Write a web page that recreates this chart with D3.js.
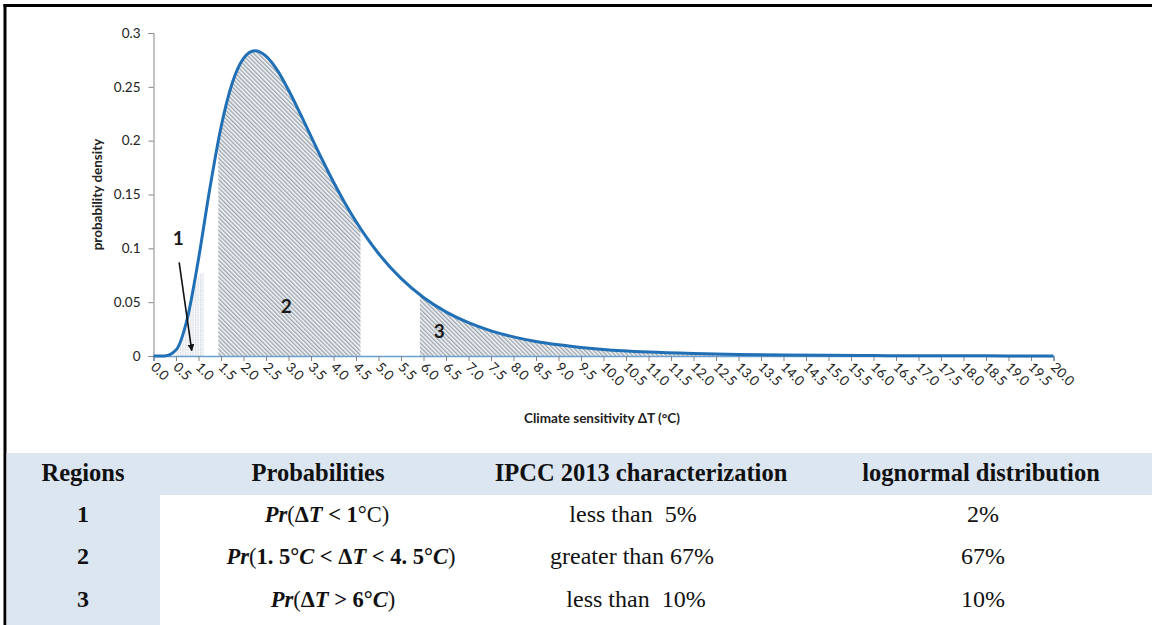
<!DOCTYPE html>
<html>
<head>
<meta charset="utf-8">
<script src="https://cdn.jsdelivr.net/npm/d3@7"></script>
<style>
  html, body { margin: 0; padding: 0; background: #fff; }
  svg { display: block; }
  text { white-space: pre; }
</style>
</head>
<body>
<svg id="chart" width="1152" height="625"></svg>
<script>
// Climate sensitivity ΔT (°C) and its probability density (lognormal fit)
const sensitivity = [0, 0.25, 0.5, 0.75, 1.0, 1.25, 1.5, 1.75, 2.0, 2.25, 2.5, 2.75, 3.0, 3.25, 3.5, 3.75,
  4.0, 4.25, 4.5, 4.75, 5.0, 5.5, 6.0, 6.5, 7.0, 7.5, 8.0, 8.5, 9.0, 9.5, 10, 11, 12, 13, 14, 15, 16, 17, 18, 19, 20];
const density = [0, 0.0001, 0.0055, 0.0346, 0.0901, 0.1550, 0.2125, 0.2535, 0.2765, 0.2835, 0.2785, 0.2655,
  0.2470, 0.2260, 0.2040, 0.1823, 0.1616, 0.1424, 0.1249, 0.1092, 0.0952, 0.0721, 0.0544, 0.0410, 0.0310,
  0.0234, 0.0178, 0.0135, 0.0104, 0.0080, 0.0061, 0.0037, 0.0023, 0.0014, 0.0009, 0.0006, 0.0004, 0.0002,
  0.0002, 0.0001, 0.0001];

// Hatched regions: 1 = ΔT < 1 °C, 2 = 1.5–4.5 °C, 3 = ΔT > 6 °C
const region1X = [0.5, 1.0, 1.12];
const region1Top = [0.002, 0.075, 0.078];
const region2Range = [1.44, 4.6];
const region3Range = [5.92, 20];

// Axis ticks
const xTickValues = [0, 0.5, 1, 1.5, 2, 2.5, 3, 3.5, 4, 4.5, 5, 5.5, 6, 6.5, 7, 7.5, 8, 8.5, 9, 9.5, 10,
  10.5, 11, 11.5, 12, 12.5, 13, 13.5, 14, 14.5, 15, 15.5, 16, 16.5, 17, 17.5, 18, 18.5, 19, 19.5, 20];
const xTickLabels = ["0.0", "0.5", "1.0", "1.5", "2.0", "2.5", "3.0", "3.5", "4.0", "4.5", "5.0", "5.5",
  "6.0", "6.5", "7.0", "7.5", "8.0", "8.5", "9.0", "9.5", "10.0", "10.5", "11.0", "11.5", "12.0", "12.5",
  "13.0", "13.5", "14.0", "14.5", "15.0", "15.5", "16.0", "16.5", "17.0", "17.5", "18.0", "18.5", "19.0",
  "19.5", "20.0"];
const yTickValues = [0, 0.05, 0.1, 0.15, 0.2, 0.25, 0.3];
const yTickLabels = ["0", "0.05", "0.1", "0.15", "0.2", "0.25", "0.3"];

// Region annotations
const regionLabels = ["1", "2", "3"];
const regionLabelX = [0.55, 2.95, 6.35];
const regionLabelY = [0.103, 0.040, 0.017];

// Summary table
const tableHeaders = ["Regions", "Probabilities", "IPCC 2013 characterization", "lognormal distribution"];
const regionIds = ["1", "2", "3"];
const probabilityTexts = [
  [["Pr", "bi"], ["(", "r"], ["Δ", "b"], ["T", "bi"], [" < ", "b"], ["1", "b"], ["°C", "r"], [")", "r"]],
  [["Pr", "bi"], ["(", "r"], ["1. 5", "b"], ["°", "b"], ["C", "bi"], [" < ", "b"], ["Δ", "b"], ["T", "bi"],
   [" < ", "b"], ["4. 5", "b"], ["°", "b"], ["C", "bi"], [")", "r"]],
  [["Pr", "bi"], ["(", "r"], ["Δ", "b"], ["T", "bi"], [" > ", "b"], ["6", "b"], ["°", "b"], ["C", "bi"], [")", "r"]]
];
const ipccTexts = ["less than  5%", "greater than 67%", "less than  10%"];
const lognormalTexts = ["2%", "67%", "10%"];

const svg = d3.select("#chart");
const defs = svg.append("defs");

// Diagonal hatch for regions 2 and 3
const hatch = defs.append("pattern")
  .attr("id", "hatch").attr("patternUnits", "userSpaceOnUse")
  .attr("width", 3).attr("height", 3)
  .attr("patternTransform", "rotate(-45)");
hatch.append("rect").attr("width", 3).attr("height", 3).attr("fill", "#f6f8fa");
hatch.append("line").attr("x1", 0.8).attr("y1", 0).attr("x2", 0.8).attr("y2", 3)
  .attr("stroke", "#76828e").attr("stroke-width", 1);

// Lighter hatch for region 1
const hatchLight = defs.append("pattern")
  .attr("id", "hatchLight").attr("patternUnits", "userSpaceOnUse")
  .attr("width", 2.5).attr("height", 2.5);
hatchLight.append("rect").attr("width", 2.5).attr("height", 2.5).attr("fill", "#f7f8fa");
hatchLight.append("line").attr("x1", 0.6).attr("y1", 0).attr("x2", 0.6).attr("y2", 2.5)
  .attr("stroke", "#d2d8de").attr("stroke-width", 0.9).attr("stroke-dasharray", "1,0.6");

// Frame lines
svg.append("rect").attr("x", 3.5).attr("y", 4).attr("width", 1152).attr("height", 3).attr("fill", "#000");
svg.append("rect").attr("x", 3.5).attr("y", 4).attr("width", 3).attr("height", 625).attr("fill", "#000");

const x = d3.scaleLinear().domain([0, 20]).range([153.5, 1053.5]);
const y = d3.scaleLinear().domain([0, 0.3]).range([356, 33]);

const pts = sensitivity.map((t, i) => [t, density[i]]);
const curve = d3.curveMonotoneX;

// Region areas under the curve, clipped to each range
const areaGen = d3.area().x(d => x(d[0])).y0(y(0)).y1(d => y(d[1])).curve(curve);
[region2Range, region3Range].forEach((r, i) => {
  const id = "clipRegion" + (i + 2);
  defs.append("clipPath").attr("id", id).append("rect")
    .attr("x", x(r[0])).attr("y", 0).attr("width", x(r[1]) - x(r[0])).attr("height", y(0));
  svg.append("path").datum(pts).attr("d", areaGen)
    .attr("fill", "url(#hatch)").attr("clip-path", `url(#${id})`);
});

// Region 1 shading
const r1 = region1X.map((t, i) => [t, region1Top[i]]);
svg.append("path").datum(r1)
  .attr("d", d3.area().x(d => x(d[0])).y0(y(0)).y1(d => y(d[1])))
  .attr("fill", "url(#hatchLight)");

// Axes
const axisColor = "#868686";
const font = "Lato, 'Open Sans', sans-serif";
const yAxis = svg.append("g").attr("transform", `translate(${x(0)},0)`)
  .call(d3.axisLeft(y).tickValues(yTickValues).tickSize(5).tickPadding(8)
    .tickFormat((d, i) => yTickLabels[i]));
yAxis.select(".domain").attr("stroke", axisColor);
yAxis.selectAll(".tick line").attr("stroke", axisColor);
yAxis.selectAll(".tick text").attr("font-family", font)
  .attr("font-size", 13.5).attr("fill", "#222");

const xAxis = svg.append("g").attr("transform", `translate(0,${y(0)})`)
  .call(d3.axisBottom(x).tickValues(xTickValues).tickSize(5).tickFormat((d, i) => xTickLabels[i]));
xAxis.select(".domain").attr("stroke", "#6a9fd0").attr("stroke-width", 1.5);
xAxis.selectAll(".tick line").attr("stroke", axisColor);
xAxis.selectAll(".tick text")
  .attr("font-family", font).attr("font-size", 13.5).attr("fill", "#222")
  .attr("text-anchor", "start").attr("dy", null).attr("y", 0)
  .attr("transform", "translate(-4,12) rotate(45)");

// Axis titles
svg.append("text").attr("x", 602).attr("y", 423).attr("text-anchor", "middle")
  .attr("font-family", font).attr("font-weight", "bold")
  .attr("font-size", 13.5).attr("fill", "#222").text("Climate sensitivity ΔT (°C)");
svg.append("text").attr("transform", `translate(102,${(y(0) + y(0.3)) / 2}) rotate(-90)`)
  .attr("text-anchor", "middle")
  .attr("font-family", font).attr("font-weight", "bold")
  .attr("font-size", 13.5).attr("fill", "#222").text("probability density");

// Density curve
svg.append("path").datum(pts)
  .attr("d", d3.line().x(d => x(d[0])).y(d => y(d[1])).curve(curve))
  .attr("fill", "none").attr("stroke", "#2170b5").attr("stroke-width", 3)
  .attr("stroke-linejoin", "round");

// Region labels
svg.selectAll(".regionLabel").data(regionLabels).join("text")
  .attr("class", "regionLabel")
  .attr("x", (d, i) => x(regionLabelX[i])).attr("y", (d, i) => y(regionLabelY[i]))
  .attr("text-anchor", "middle")
  .attr("font-family", font).attr("font-weight", "bold")
  .attr("font-size", 19).attr("fill", "#1a1a1a").text(d => d);

// Arrow pointing at region 1
defs.append("marker").attr("id", "arrowHead").attr("viewBox", "0 0 10 10")
  .attr("refX", 9).attr("refY", 5).attr("markerWidth", 7).attr("markerHeight", 7)
  .attr("markerUnits", "userSpaceOnUse").attr("orient", "auto")
  .append("path").attr("d", "M0,0 L10,5 L0,10 z").attr("fill", "#111");
svg.append("line")
  .attr("x1", x(0.57)).attr("y1", y(0.087)).attr("x2", x(0.85)).attr("y2", y(0.005))
  .attr("stroke", "#111").attr("stroke-width", 1.6).attr("marker-end", "url(#arrowHead)");

// Summary table
const serif = "'Liberation Serif', 'Times New Roman', serif";
svg.append("rect").attr("x", 6.5).attr("y", 453).attr("width", 1146).attr("height", 42).attr("fill", "#dce6f1");
svg.append("rect").attr("x", 6.5).attr("y", 495).attr("width", 153.5).attr("height", 130).attr("fill", "#dce6f1");

const colCenters = [83, 318, 641, 981];
svg.selectAll(".hdr").data(tableHeaders).join("text").attr("class", "hdr")
  .attr("x", (d, i) => colCenters[i]).attr("y", 481).attr("text-anchor", "middle")
  .attr("font-family", serif).attr("font-weight", "bold").attr("font-size", 24.5).attr("fill", "#111")
  .text(d => d);

const rowBase = [522, 564, 607];
svg.selectAll(".rid").data(regionIds).join("text").attr("class", "rid")
  .attr("x", colCenters[0]).attr("y", (d, i) => rowBase[i]).attr("text-anchor", "middle")
  .attr("font-family", serif).attr("font-weight", "bold").attr("font-size", 24).attr("fill", "#111")
  .text(d => d);

const probCenters = [327, 341, 333];
probabilityTexts.forEach((segs, i) => {
  const t = svg.append("text").attr("x", probCenters[i]).attr("y", rowBase[i])
    .attr("text-anchor", "middle").attr("font-family", serif).attr("font-size", 22.5).attr("fill", "#111");
  segs.forEach(([s, st]) => {
    t.append("tspan").text(s)
      .attr("font-weight", st.includes("b") ? "bold" : "normal")
      .attr("font-style", st.includes("i") ? "italic" : "normal");
  });
});

const ipccCenters = [633, 632, 636];
svg.selectAll(".ipcc").data(ipccTexts).join("text").attr("class", "ipcc")
  .attr("x", (d, i) => ipccCenters[i]).attr("y", (d, i) => rowBase[i]).attr("text-anchor", "middle")
  .attr("font-family", serif).attr("font-size", 24).attr("fill", "#111").text(d => d);

svg.selectAll(".logn").data(lognormalTexts).join("text").attr("class", "logn")
  .attr("x", 983).attr("y", (d, i) => rowBase[i]).attr("text-anchor", "middle")
  .attr("font-family", serif).attr("font-size", 24).attr("fill", "#111").text(d => d);
</script>
</body>
</html>
